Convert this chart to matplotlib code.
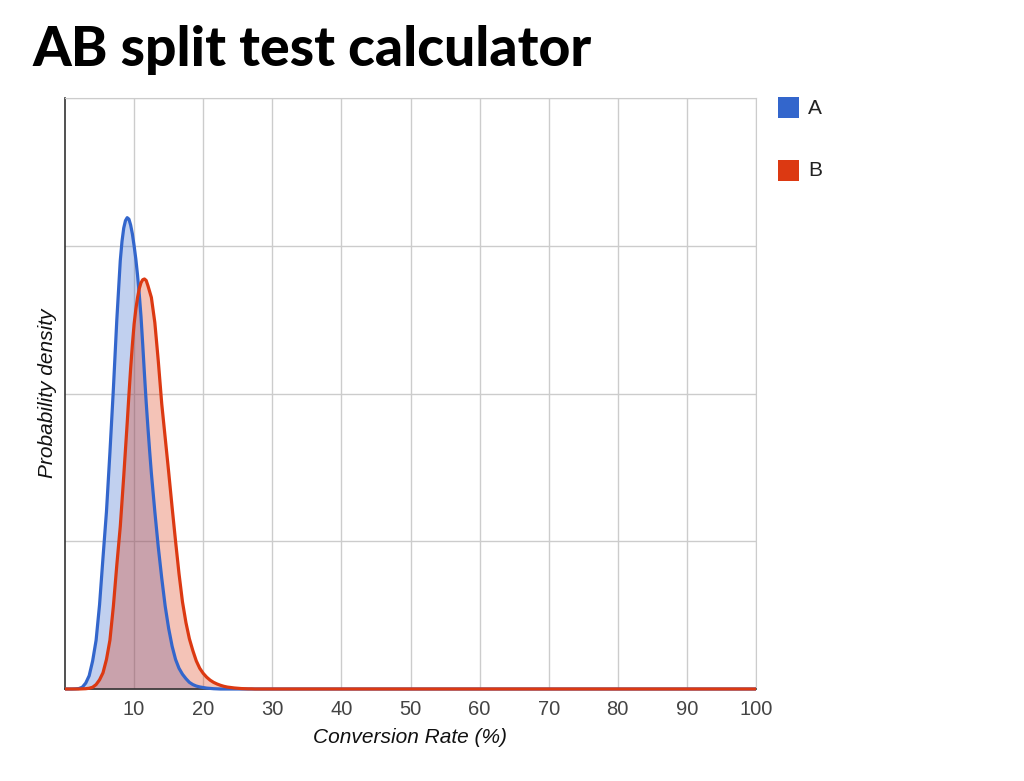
import matplotlib
matplotlib.use("Agg")
import matplotlib.pyplot as plt
from matplotlib.patches import Rectangle

# conversion rate grid (%) (finer around the peaks)
rate_pct = [0, 0.5, 1, 1.5, 2, 2.5, 3, 3.5, 4, 4.5,
            5, 5.5, 6, 6.5, 7, 7.5,
            8, 8.25, 8.5, 8.75, 9, 9.25, 9.5, 9.75,
            10, 10.25, 10.5, 10.75, 11, 11.25, 11.5, 11.75,
            12, 12.25, 12.5, 13, 13.5, 14, 14.5,
            15, 15.5, 16, 16.5, 17, 17.5, 18, 18.5, 19, 19.5,
            20, 20.5, 21, 21.5, 22, 22.5, 23, 23.5, 24, 24.5,
            25, 25.5, 26, 26.5, 27, 27.5, 28, 100]

# probability density of A (blue), in gridline units
density_a = [0, 0, 0, 0.001, 0.003, 0.012, 0.04, 0.09, 0.19, 0.33,
             0.57, 0.89, 1.2, 1.6, 2.03, 2.5,
             2.9, 3.03, 3.12, 3.17, 3.19, 3.18, 3.14, 3.08,
             3.0, 2.91, 2.8, 2.67, 2.52, 2.33, 2.13, 1.94,
             1.77, 1.61, 1.46, 1.2, 0.96, 0.75, 0.56,
             0.41, 0.29, 0.2, 0.14, 0.1, 0.07, 0.045, 0.03, 0.02, 0.014,
             0.01, 0.006, 0.004, 0.002, 0.001, 0, 0, 0, 0, 0,
             0, 0, 0, 0, 0, 0, 0, 0]

# probability density of B (red)
density_b = [0, 0, 0, 0, 0, 0.001, 0.002, 0.005, 0.012, 0.03,
             0.062, 0.11, 0.2, 0.33, 0.56, 0.84,
             1.1, 1.27, 1.44, 1.62, 1.8, 1.99, 2.17, 2.33,
             2.47, 2.57, 2.65, 2.71, 2.75, 2.77, 2.775, 2.765,
             2.73, 2.69, 2.65, 2.48, 2.22, 1.93, 1.7,
             1.47, 1.23, 1.0, 0.78, 0.59, 0.45, 0.34, 0.26, 0.19, 0.14,
             0.106, 0.08, 0.06, 0.045, 0.034, 0.025, 0.018, 0.013, 0.01, 0.007,
             0.005, 0.003, 0.002, 0.001, 0.001, 0, 0, 0]

x_ticks = [10, 20, 30, 40, 50, 60, 70, 80, 90, 100]
y_grid = [1, 2, 3, 4]
series_names = ['A', 'B']
series_colors = ['#3366cc', '#dc3912']

W, H = 1024, 781
fig = plt.figure(figsize=(W / 100, H / 100), dpi=100)
ax = fig.add_axes([65 / W, 1 - 689 / H, (756 - 65) / W, (689 - 98) / H])

ax.fill_between(rate_pct, density_a, color=series_colors[0], alpha=0.3, lw=0, zorder=1)
ax.fill_between(rate_pct, density_b, color=series_colors[1], alpha=0.3, lw=0, zorder=1.1)
ax.plot(rate_pct, density_a, color=series_colors[0], lw=2.3, zorder=3, clip_on=False,
        solid_capstyle='butt', solid_joinstyle='round')
ax.plot(rate_pct, density_b, color=series_colors[1], lw=2.3, zorder=3.1, clip_on=False,
        solid_capstyle='butt', solid_joinstyle='round')

ax.set_xlim(0, 100)
ax.set_ylim(0, 4)
ax.set_xticks(x_ticks)
ax.set_yticks(y_grid)
ax.set_yticklabels([])
ax.grid(True, color='#cccccc', lw=1, zorder=0)
ax.set_axisbelow(True)
ax.tick_params(length=0, pad=8, labelsize=14.5, labelcolor='#444444',
               labelfontfamily='Liberation Sans')
for s in ['top', 'right']:
    ax.spines[s].set_color('#cccccc')
for s in ['left', 'bottom']:
    ax.spines[s].set_color('#333333')
    ax.spines[s].set_linewidth(1.2)

fig.text(410 / W, 1 - 743 / H, 'Conversion Rate (%)', ha='center', va='baseline',
         fontsize=15, style='italic', family='Liberation Sans', color='#111111')
fig.text(48 / W, 1 - 393 / H, 'Probability density', ha='center', va='center',
         rotation=90, fontsize=15, style='italic', family='Liberation Sans', color='#111111')

title = fig.text(32 / W, 1 - 66 / H, 'AB split test calculator', ha='left', va='baseline',
                 fontsize=38, fontweight='black', family=['Lato', 'DejaVu Sans'], color='black')
# fit title to its width in the reference (~558 px)
r = fig.canvas.get_renderer()
tw = title.get_window_extent(r).width
title.set_fontsize(38 * 558 / tw)

# legend
for i, (name, col) in enumerate(zip(series_names, series_colors)):
    top = 97 + i * 63
    fig.add_artist(Rectangle((778 / W, 1 - (top + 21) / H), 21 / W, 21 / H,
                             transform=fig.transFigure, color=col, lw=0))
    fig.text(808 / W, 1 - (top + 11) / H, name, ha='left', va='center',
             fontsize=15, family='Liberation Sans', color='#222222')

fig.savefig('out.png', dpi=100)
